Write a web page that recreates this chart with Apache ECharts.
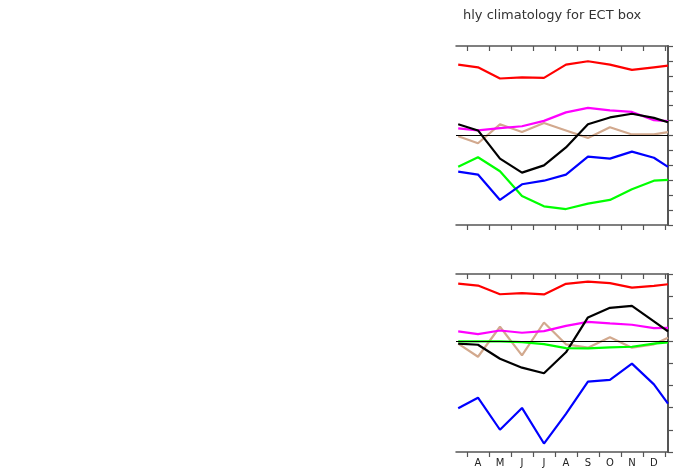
<!DOCTYPE html>
<html>
<head>
<meta charset="utf-8">
<script src="https://cdn.jsdelivr.net/npm/echarts@6/dist/echarts.min.js"></script>
<style>html,body{margin:0;background:#fff}#c{width:686px;height:472px}</style>
</head>
<body>
<div id="c"></div>
<script>
// --- Data ---
const months = ['J', 'F', 'M', 'A', 'M', 'J', 'J', 'A', 'S', 'O', 'N', 'D'];
const xPos = [3.1, 4, 5, 6, 7, 8, 9, 10, 11, 12, 12.64];

const topRed     = [4.75, 4.57, 3.82, 3.9, 3.86, 4.75, 4.98, 4.75, 4.4, 4.57, 4.68];
const topMagenta = [0.48, 0.34, 0.5, 0.62, 0.98, 1.55, 1.85, 1.69, 1.58, 1.03, 0.96];
const topTan     = [-0.05, -0.52, 0.75, 0.23, 0.84, 0.34, -0.16, 0.55, 0.07, 0.07, 0.23];
const topBlack   = [0.75, 0.34, -1.55, -2.49, -2.0, -0.8, 0.75, 1.21, 1.46, 1.18, 0.89];
const topGreen   = [-2.1, -1.46, -2.4, -4.06, -4.75, -4.93, -4.57, -4.32, -3.61, -3.03, -2.97];
const topBlue    = [-2.42, -2.62, -4.32, -3.27, -3.03, -2.62, -1.42, -1.55, -1.08, -1.49, -2.1];

const botRed     = [2.57, 2.48, 2.09, 2.14, 2.08, 2.56, 2.66, 2.59, 2.39, 2.47, 2.54];
const botMagenta = [0.42, 0.30, 0.46, 0.36, 0.43, 0.67, 0.85, 0.78, 0.72, 0.57, 0.58];
const botTan     = [-0.13, -0.72, 0.63, -0.66, 0.82, -0.16, -0.31, 0.16, -0.31, -0.16, 0.13];
const botBlack   = [-0.13, -0.18, -0.81, -1.21, -1.46, -0.52, 1.05, 1.48, 1.57, 0.87, 0.42];
const botGreen   = [-0.03, -0.03, -0.03, -0.06, -0.15, -0.33, -0.34, -0.3, -0.27, -0.13, -0.07];
const botBlue    = [-3.03, -2.56, -4.0, -3.02, -4.62, -3.29, -1.84, -1.76, -1.03, -1.96, -2.83];

const axisGray = '#555';

function xAxes(gridIndex, showLabels) {
    const base = {
        gridIndex, type: 'value', min: 3, max: 12.64, interval: 1,
        axisLine: { show: true, onZero: false, lineStyle: { color: axisGray, width: 1.5 } },
        minorTick: { show: true, splitNumber: 2, length: 5, lineStyle: { color: axisGray, width: 1.2 } },
        splitLine: { show: false }, minorSplitLine: { show: false }
    };
    return [
        Object.assign({}, base, {
            position: 'bottom',
            axisTick: { show: false, inside: false },
            axisLabel: {
                show: showLabels, color: '#222', fontSize: 10, fontFamily: 'DejaVu Sans', margin: 6,
                formatter: v => (v >= 4 && v <= 12 && Number.isInteger(v)) ? months[v - 1] : ''
            }
        }),
        Object.assign({}, base, {
            position: 'top',
            axisTick: { show: false, inside: true },
            axisLabel: { show: false }
        })
    ];
}

function yAxis(gridIndex, min, max) {
    return {
        gridIndex, type: 'value', min, max, interval: 1, position: 'right',
        axisLine: { show: true, lineStyle: { color: axisGray, width: 2 } },
        axisTick: { show: true, inside: false, length: 5, lineStyle: { color: axisGray, width: 1.2 } },
        axisLabel: { show: false },
        splitLine: { show: false }
    };
}

function lines(xi, yi, sets) {
    return sets.map(([vals, color], i) => ({
        type: 'line', xAxisIndex: xi, yAxisIndex: yi,
        data: vals.map((v, k) => [xPos[k], v]),
        showSymbol: false, animation: false,
        lineStyle: { color, width: 2.2 },
        markLine: i === 0 ? {
            silent: true, symbol: 'none', label: { show: false },
            lineStyle: { color: '#000', width: 1, type: 'solid' },
            data: [{ yAxis: 0 }]
        } : undefined
    }));
}

const chart = echarts.init(document.getElementById('c'), null, { renderer: 'canvas' });
chart.setOption({
    animation: false,
    title: {
        text: 'hly climatology for ECT box', left: 458, top: 4,
        textStyle: { fontSize: 13, fontWeight: 'normal', color: '#333', fontFamily: 'DejaVu Sans' }
    },
    grid: [
        { left: 456, top: 46, width: 212, height: 179 },
        { left: 456, top: 274, width: 212, height: 178 }
    ],
    xAxis: [...xAxes(0, false), ...xAxes(1, true)],
    yAxis: [yAxis(0, -6, 6), yAxis(1, -5, 3)],
    series: [
        ...lines(0, 0, [[topGreen, '#00ff00'], [topBlue, '#0000ff'], [topTan, '#d2a98e'],
                        [topMagenta, '#ff00ff'], [topRed, '#ff0000'], [topBlack, '#000000']]),
        ...lines(2, 1, [[botTan, '#d2a98e'], [botBlue, '#0000ff'], [botMagenta, '#ff00ff'],
                        [botRed, '#ff0000'], [botBlack, '#000000'], [botGreen, '#00ff00']])
    ]
});
</script>
</body>
</html>
